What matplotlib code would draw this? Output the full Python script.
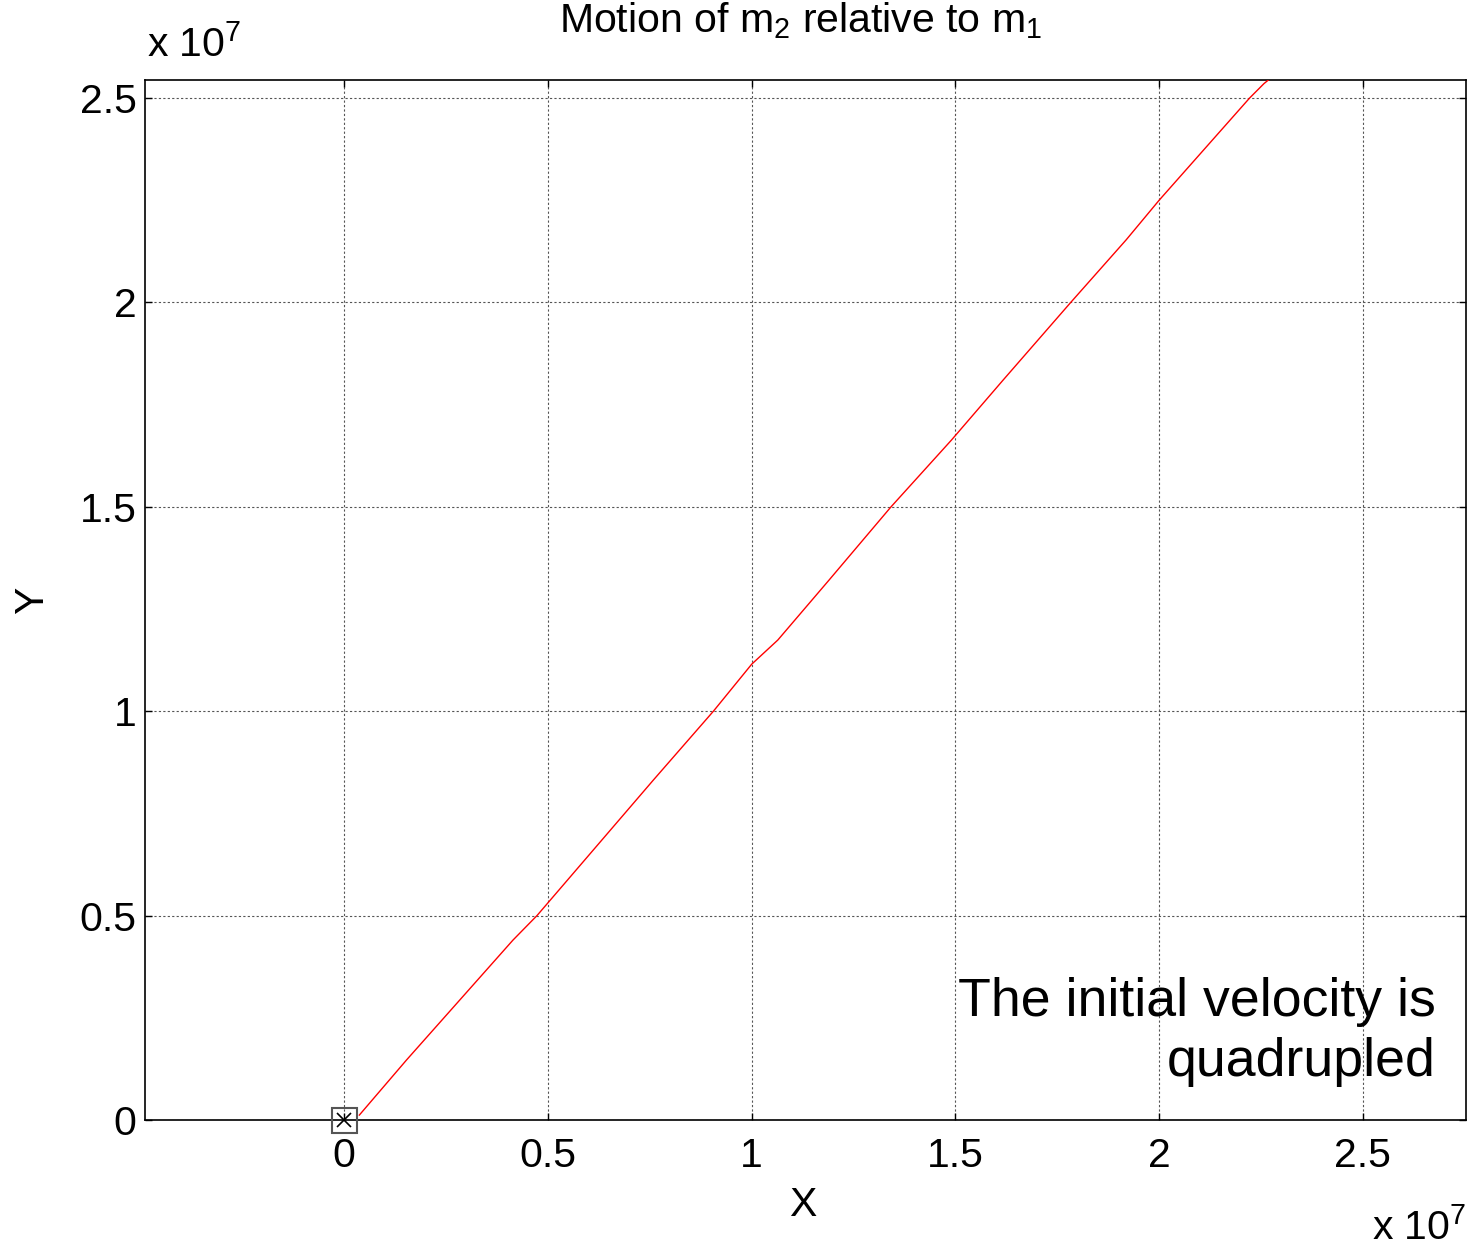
import matplotlib
matplotlib.use("Agg")
import matplotlib.pyplot as plt
from matplotlib.ticker import FuncFormatter, FixedLocator

plt.rcParams['font.family'] = ['Liberation Sans', 'DejaVu Sans']
plt.rcParams['mathtext.fontset'] = 'custom'
plt.rcParams['mathtext.rm'] = 'Liberation Sans'
plt.rcParams['mathtext.it'] = 'Liberation Sans'

# Trajectory of m2 relative to m1 (metres)
x_vals = [0.037e7, 0.153e7, 0.414e7, 0.473e7, 0.759e7, 0.906e7, 1.000e7, 1.064e7,
          1.190e7, 1.342e7, 1.490e7, 1.617e7, 1.783e7, 1.919e7, 2.000e7, 2.222e7,
          2.257e7, 2.268e7]
y_vals = [0.012e7, 0.147e7, 0.440e7, 0.500e7, 0.832e7, 1.000e7, 1.115e7, 1.174e7,
          1.321e7, 1.500e7, 1.663e7, 1.810e7, 2.000e7, 2.153e7, 2.250e7, 2.500e7,
          2.535e7, 2.544e7]
origin_x = [0.0]
origin_y = [0.0]
xticks = [0, 0.5e7, 1.0e7, 1.5e7, 2.0e7, 2.5e7]
yticks = [0, 0.5e7, 1.0e7, 1.5e7, 2.0e7, 2.5e7]

W, H = 1470, 1248
FS = 29.5
fig = plt.figure(figsize=(W / 100, H / 100), dpi=100)
ax = fig.add_axes([145 / W, 1 - 1120 / H, (1466 - 145) / W, (1120 - 80) / H])

ax.plot(x_vals, y_vals, color='#ff0000', lw=1.0, zorder=3)
ax.plot(origin_x, origin_y, marker='s', ms=18, mfc='none', mec='#555555', mew=1.5,
        ls='none', zorder=4, clip_on=False)
ax.plot(origin_x, origin_y, marker='x', ms=10, color='black', mew=1.2,
        ls='none', zorder=5, clip_on=False)

ax.set_xlim(-0.489e7, 2.753e7)
ax.set_ylim(0, 2.544e7)

fmt = FuncFormatter(lambda v, p: '%g' % (v / 1e7))
ax.xaxis.set_major_locator(FixedLocator(xticks))
ax.yaxis.set_major_locator(FixedLocator(yticks))
ax.xaxis.set_major_formatter(fmt)
ax.yaxis.set_major_formatter(fmt)

ax.tick_params(direction='in', length=5, width=1, labelsize=FS,
               top=True, right=True)
ax.tick_params(axis='x', pad=12)
ax.tick_params(axis='y', pad=6)
for s in ax.spines.values():
    s.set_linewidth(1.2)
ax.grid(True, color='#555555', linestyle=(0, (2, 2)), linewidth=0.8)

ax.set_xlabel('X', fontsize=FS, va='center', ha='center')
ax.xaxis.set_label_coords((803 - 145) / 1321, -(1205 - 1120) / 1040)
ax.set_ylabel('Y', fontsize=FS, va='center', ha='center')
ax.yaxis.set_label_coords((32 - 145) / 1321, 0.5)

fig.text(801 / W, 1 - 32 / H, r'Motion of m$_\mathrm{2}$ relative to m$_\mathrm{1}$',
         ha='center', va='baseline', fontsize=FS)
fig.text(147 / W, 1 - 57 / H, r'x 10$^\mathrm{7}$', ha='left', va='baseline', fontsize=FS)
fig.text(1466 / W, 1 - 1240 / H, r'x 10$^\mathrm{7}$', ha='right', va='baseline', fontsize=FS)

ax.text(0.9773, 1 - (1016 - 80) / (1120 - 80), 'The initial velocity is',
        transform=ax.transAxes, ha='right', va='baseline', fontsize=38.6)
ax.text(0.9773, 1 - (1076 - 80) / (1120 - 80), 'quadrupled',
        transform=ax.transAxes, ha='right', va='baseline', fontsize=38.6)

fig.savefig('out.png', dpi=100)
